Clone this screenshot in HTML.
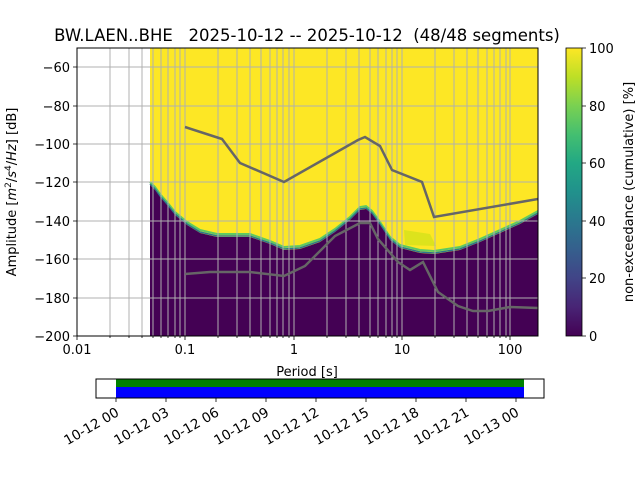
<!DOCTYPE html>
<html><head><meta charset="utf-8"><style>
body{margin:0;background:#fff;}
svg{display:block;font-family:"DejaVu Sans","Liberation Sans",sans-serif;}
</style></head><body>
<svg width="640" height="480" viewBox="0 0 640 480" xmlns="http://www.w3.org/2000/svg">
<defs>
<linearGradient id="vir" x1="0" y1="1" x2="0" y2="0">
<stop offset="0" stop-color="#440154"/><stop offset="0.1" stop-color="#482475"/>
<stop offset="0.2" stop-color="#414487"/><stop offset="0.3" stop-color="#355f8d"/>
<stop offset="0.4" stop-color="#2a788e"/><stop offset="0.5" stop-color="#21918c"/>
<stop offset="0.6" stop-color="#22a884"/><stop offset="0.7" stop-color="#44bf70"/>
<stop offset="0.8" stop-color="#7ad151"/><stop offset="0.9" stop-color="#bddf26"/>
<stop offset="1" stop-color="#fde725"/>
</linearGradient>
<clipPath id="ax"><rect x="77" y="48" width="461" height="288"/></clipPath>
</defs>
<text x="307" y="41" font-size="16.5" text-anchor="middle" xml:space="preserve" style="white-space:pre">BW.LAEN..BHE   2025-10-12 -- 2025-10-12  (48/48 segments)</text>
<g clip-path="url(#ax)">
<rect x="150" y="48" width="388" height="288" fill="#fde725"/>
<path d="M404,230 L430,234 L436,246 L405,245 Z" fill="#d4e21a" opacity="0.8"/>
<polyline points="150,182 155,187 160,194 167,202 175,212 187,222 200,230 217,234 250,234 270,241 284,247 300,246 320,239 335,229 350,217 360,207 366,206 372,211 380,222 390,237 400,245 420,250 434,251 460,247 480,239 500,230 520,221 538,211" fill="none" stroke="#5ec962" stroke-width="2"/>
<polyline points="150,184 155,189 160,196 167,204 175,214 187,224 200,232 217,236 250,236 270,243 284,249 300,248 320,241 335,231 350,219 360,209 366,208 372,213 380,224 390,239 400,247 420,252 434,253 460,249 480,241 500,232 520,223 538,213" fill="none" stroke="#2a788e" stroke-width="1.5"/>
<polygon points="150,185 155,190 160,197 167,205 175,215 187,225 200,233 217,237 250,237 270,244 284,250 300,249 320,242 335,232 350,220 360,210 366,209 372,214 380,225 390,240 400,248 420,253 434,254 460,250 480,242 500,233 520,224 538,214 538,336 150,336" fill="#440154"/>
<g stroke="#b0b0b0" stroke-width="1">
<line x1="77" y1="67" x2="538" y2="67"/><line x1="77" y1="106" x2="538" y2="106"/>
<line x1="77" y1="144" x2="538" y2="144"/><line x1="77" y1="182" x2="538" y2="182"/>
<line x1="77" y1="221" x2="538" y2="221"/><line x1="77" y1="259" x2="538" y2="259"/>
<line x1="77" y1="298" x2="538" y2="298"/>
<path d="M110,48V336M129,48V336M142,48V336M153,48V336M161,48V336M168,48V336M175,48V336M180,48V336M185,48V336M218,48V336M237,48V336M250,48V336M261,48V336M270,48V336M277,48V336M283,48V336M289,48V336M294,48V336M327,48V336M346,48V336M359,48V336M370,48V336M378,48V336M386,48V336M392,48V336M397,48V336M402,48V336M435,48V336M454,48V336M467,48V336M478,48V336M487,48V336M494,48V336M500,48V336M506,48V336M510,48V336"/>
</g>
<polyline points="185,127 222,139 240,163 284,182 358,140 365,137 380,146 392,170 422,182 434,217 538,199" fill="none" stroke="#666" stroke-width="2.5"/>
<polyline points="185,274 210,272 250,272 284,276 305,266 335,236 360,223 370,223 378,239 398,262 410,270 423,262 438,292 458,306 473,311 488,311 510,307 538,308" fill="none" stroke="#666" stroke-width="2.5"/>
</g>
<rect x="77" y="48" width="461" height="288" fill="none" stroke="#000" stroke-width="1"/>
<g stroke="#000" stroke-width="0.8">
<path d="M77,336v4M185,336v4M294,336v4M402,336v4M510,336v4"/>
<path d="M110,336v2M129,336v2M142,336v2M153,336v2M161,336v2M168,336v2M175,336v2M180,336v2M218,336v2M237,336v2M250,336v2M261,336v2M270,336v2M277,336v2M283,336v2M289,336v2M327,336v2M346,336v2M359,336v2M370,336v2M378,336v2M386,336v2M392,336v2M397,336v2M435,336v2M454,336v2M467,336v2M478,336v2M487,336v2M494,336v2M500,336v2M506,336v2"/>
<path d="M77,67h-4M77,106h-4M77,144h-4M77,182h-4M77,221h-4M77,259h-4M77,298h-4M77,336h-4"/>
</g>
<g font-size="13" text-anchor="middle">
<text x="77" y="354">0.01</text><text x="185" y="354">0.1</text><text x="294" y="354">1</text>
<text x="402" y="354">10</text><text x="510" y="354">100</text>
<text x="307" y="376">Period [s]</text>
</g>
<g font-size="13" text-anchor="end">
<text x="70" y="72">−60</text><text x="70" y="111">−80</text><text x="70" y="149">−100</text>
<text x="70" y="187">−120</text><text x="70" y="226">−140</text><text x="70" y="264">−160</text>
<text x="70" y="303">−180</text><text x="70" y="341">−200</text>
</g>
<text transform="translate(16,192) rotate(-90)" font-size="13" text-anchor="middle">Amplitude [<tspan font-style="italic">m</tspan><tspan font-size="9" dy="-5">2</tspan><tspan dy="5">/</tspan><tspan font-style="italic">s</tspan><tspan font-size="9" dy="-5">4</tspan><tspan dy="5">/</tspan><tspan font-style="italic">Hz</tspan>] [dB]</text>
<rect x="566" y="48" width="16" height="288" fill="url(#vir)" stroke="#000" stroke-width="0.8"/>
<g stroke="#000" stroke-width="0.8"><path d="M582,48h4M582,106h4M582,163h4M582,221h4M582,278h4M582,336h4"/></g>
<g font-size="13">
<text x="589" y="53">100</text><text x="589" y="111">80</text><text x="589" y="168">60</text>
<text x="589" y="226">40</text><text x="589" y="283">20</text><text x="589" y="341">0</text>
</g>
<text transform="translate(633,192) rotate(-90)" font-size="13" text-anchor="middle">non-exceedance (cumulative) [%]</text>
<rect x="116" y="379" width="408" height="8" fill="#008000"/>
<rect x="116" y="387" width="408" height="11" fill="#0000ff"/>
<rect x="96" y="379" width="448" height="19" fill="none" stroke="#000" stroke-width="1"/>
<g stroke="#000" stroke-width="0.8"><path d="M116,398v4M166,398v4M216,398v4M266,398v4M316,398v4M366,398v4M416,398v4M466,398v4M516,398v4"/></g>
<g font-size="13.5" text-anchor="end">
<text transform="translate(120,415) rotate(-30)">10-12 00</text>
<text transform="translate(170,415) rotate(-30)">10-12 03</text>
<text transform="translate(220,415) rotate(-30)">10-12 06</text>
<text transform="translate(270,415) rotate(-30)">10-12 09</text>
<text transform="translate(320,415) rotate(-30)">10-12 12</text>
<text transform="translate(370,415) rotate(-30)">10-12 15</text>
<text transform="translate(420,415) rotate(-30)">10-12 18</text>
<text transform="translate(470,415) rotate(-30)">10-12 21</text>
<text transform="translate(520,415) rotate(-30)">10-13 00</text>
</g>
</svg>
</body></html>
